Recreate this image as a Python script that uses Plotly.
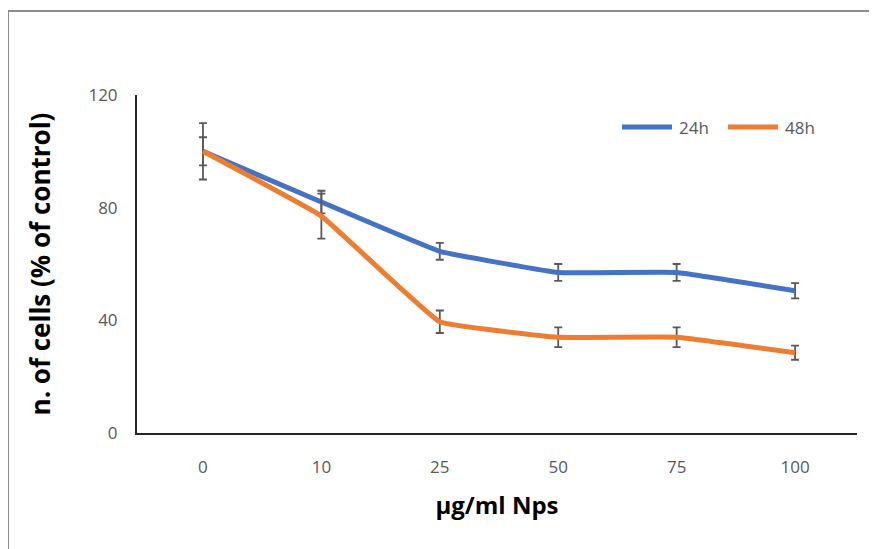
import plotly.graph_objects as go

categories = ["0", "10", "25", "50", "75", "100"]
series_names = ["24h", "48h"]
values_24h = [100, 82, 64.5, 57, 57, 50.5]
errors_24h = [5, 4, 3, 3, 3, 2.7]
values_48h = [100, 77, 39.5, 34, 34, 28.5]
errors_48h = [10, 8, 4, 3.5, 3.5, 2.5]
y_ticks = [0, 40, 80, 120]

colors = ["#4472C4", "#ED7D31"]
font_family = "'Open Sans', Lato, sans-serif"

# page has an 8px body margin; figure laid out in its own coordinates
W, H = 869, 541
L, T = 129, 87
R = W - 849
B = H - 425
pw, ph = W - L - R, H - T - B

def px(x):
    return (x - 8 - L) / pw

def py(y):
    return (425 - (y - 8)) / ph

fig = go.Figure()
for name, vals, errs, col in [(series_names[0], values_24h, errors_24h, colors[0]),
                              (series_names[1], values_48h, errors_48h, colors[1])]:
    fig.add_trace(go.Scatter(
        x=list(range(len(categories))), y=vals, name=name, mode="lines",
        line=dict(color=col, width=5, shape="spline", smoothing=0.25),
        error_y=dict(type="data", array=errs, visible=True, color="#595959",
                     thickness=1.8, width=4),
        showlegend=False,
    ))

shapes = [dict(type="rect", xref="paper", yref="paper",
               x0=px(8), x1=px(W + 40), y0=py(H + 40), y1=py(11),
               line=dict(color="#8c8c8c", width=2), layer="below")]
annotations = []
legend_items = [(622, 672, 677, series_names[0], colors[0]),
                (728, 778, 783, series_names[1], colors[1])]
for x0, x1, xt, name, col in legend_items:
    shapes.append(dict(type="line", xref="paper", yref="paper",
                       x0=px(x0), x1=px(x1), y0=py(127), y1=py(127),
                       line=dict(color=col, width=5)))
    annotations.append(dict(xref="paper", yref="paper", x=px(xt), y=py(127),
                            xanchor="left", yanchor="middle", text=name,
                            showarrow=False, font=dict(size=17, color="#595959")))

fig.update_layout(
    width=W, height=H,
    margin=dict(l=L, r=R, t=T, b=B),
    paper_bgcolor="white", plot_bgcolor="white",
    font=dict(family=font_family, color="#595959", size=17),
    showlegend=False,
    xaxis=dict(
        tickmode="array", tickvals=list(range(len(categories))), ticktext=categories,
        range=[-0.557, 5.523], showgrid=False, zeroline=False,
        showline=True, linecolor="#262626", linewidth=2, ticks="",
        tickfont=dict(size=17, color="#595959"), ticklabelstandoff=18,
        title=dict(text="<b>µg/ml Nps</b>", font=dict(size=24, color="#000"), standoff=20),
    ),
    yaxis=dict(
        range=[0, 120], tickvals=y_ticks, showgrid=False, zeroline=False,
        showline=True, linecolor="#262626", linewidth=2, ticks="",
        tickfont=dict(size=17, color="#595959"), ticklabelstandoff=14,
        title=dict(text="<b>n. of cells (% of control)</b>", font=dict(size=26, color="#000"), standoff=30),
    ),
    shapes=shapes,
    annotations=annotations,
)

fig.write_html("out.html")
